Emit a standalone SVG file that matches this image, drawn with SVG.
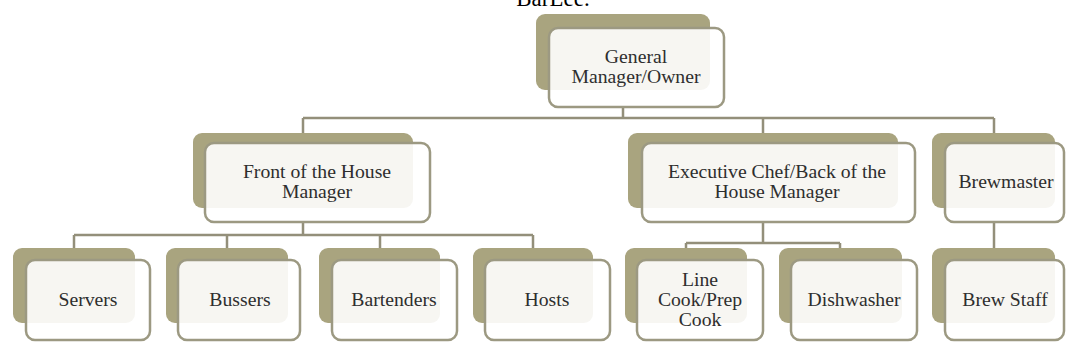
<svg xmlns="http://www.w3.org/2000/svg" width="1066" height="356" viewBox="0 0 1066 356">
<style>
.back{fill:#a9a47f;}
.front{fill:#ffffff;fill-opacity:0.9;stroke:#9c9982;stroke-width:2.5;}
.lbl{font-family:"Liberation Serif","Times New Roman",serif;font-size:19.7px;fill:#2e2e2e;text-anchor:middle;}
.title{font-family:"Liberation Serif","Times New Roman",serif;font-size:23px;fill:#000000;text-anchor:middle;}
.conn{fill:none;stroke:#938f7a;stroke-width:2.5;}
</style>
<rect width="1066" height="356" fill="#ffffff"/>
<text class="title" x="553" y="6">BarLee.</text>
<g id="connectors">
<path class="conn" d="M623,107 V118 M303,118 H994 M303,118 V133 M763,118 V133 M994,118 V133"/>
<path class="conn" d="M303,222 V235 M74,235 H533 M74,235 V248 M227,235 V248 M380,235 V248 M533,235 V248"/>
<path class="conn" d="M763,222 V243 M686,243 H840 M686,243 V248 M840,243 V248"/>
<path class="conn" d="M994,222 V248"/>
</g>
<g id="gm">
<rect class="back" x="536" y="14" width="174" height="76" rx="9"/>
<rect class="front" x="549" y="28" width="175" height="79" rx="9"/>
<text class="lbl" x="636" y="63">General</text>
<text class="lbl" x="636" y="83">Manager/Owner</text>
</g>
<g id="foh">
<rect class="back" x="193" y="133" width="220" height="75" rx="9"/>
<rect class="front" x="205" y="143" width="225" height="79" rx="9"/>
<text class="lbl" x="317" y="178">Front of the House</text>
<text class="lbl" x="317" y="198">Manager</text>
</g>
<g id="exec">
<rect class="back" x="628" y="133" width="270" height="75" rx="9"/>
<rect class="front" x="642" y="143" width="273" height="79" rx="9"/>
<text class="lbl" x="777" y="178">Executive Chef/Back of the</text>
<text class="lbl" x="777" y="198">House Manager</text>
</g>
<g id="brewmaster">
<rect class="back" x="932" y="133" width="123" height="75" rx="9"/>
<rect class="front" x="945" y="143" width="119" height="79" rx="9"/>
<text class="lbl" x="1006" y="188">Brewmaster</text>
</g>
<g id="servers">
<rect class="back" x="13" y="248" width="122" height="75" rx="9"/>
<rect class="front" x="26" y="260" width="124" height="80" rx="9"/>
<text class="lbl" x="88" y="306">Servers</text>
</g>
<g id="bussers">
<rect class="back" x="166" y="248" width="122" height="75" rx="9"/>
<rect class="front" x="178" y="260" width="122" height="80" rx="9"/>
<text class="lbl" x="240" y="306">Bussers</text>
</g>
<g id="bartenders">
<rect class="back" x="319" y="248" width="121" height="75" rx="9"/>
<rect class="front" x="332" y="260" width="125" height="80" rx="9"/>
<text class="lbl" x="394" y="306">Bartenders</text>
</g>
<g id="hosts">
<rect class="back" x="473" y="248" width="120" height="75" rx="9"/>
<rect class="front" x="485" y="260" width="125" height="80" rx="9"/>
<text class="lbl" x="547" y="306">Hosts</text>
</g>
<g id="linecook">
<rect class="back" x="625" y="248" width="122" height="75" rx="9"/>
<rect class="front" x="637" y="260" width="126" height="80" rx="9"/>
<text class="lbl" x="700" y="286">Line</text>
<text class="lbl" x="700" y="306">Cook/Prep</text>
<text class="lbl" x="700" y="326">Cook</text>
</g>
<g id="dishwasher">
<rect class="back" x="779" y="248" width="123" height="75" rx="9"/>
<rect class="front" x="791" y="260" width="126" height="80" rx="9"/>
<text class="lbl" x="854" y="306">Dishwasher</text>
</g>
<g id="brewstaff">
<rect class="back" x="932" y="248" width="123" height="75" rx="9"/>
<rect class="front" x="945" y="260" width="119" height="80" rx="9"/>
<text class="lbl" x="1005" y="306">Brew Staff</text>
</g>
</svg>
